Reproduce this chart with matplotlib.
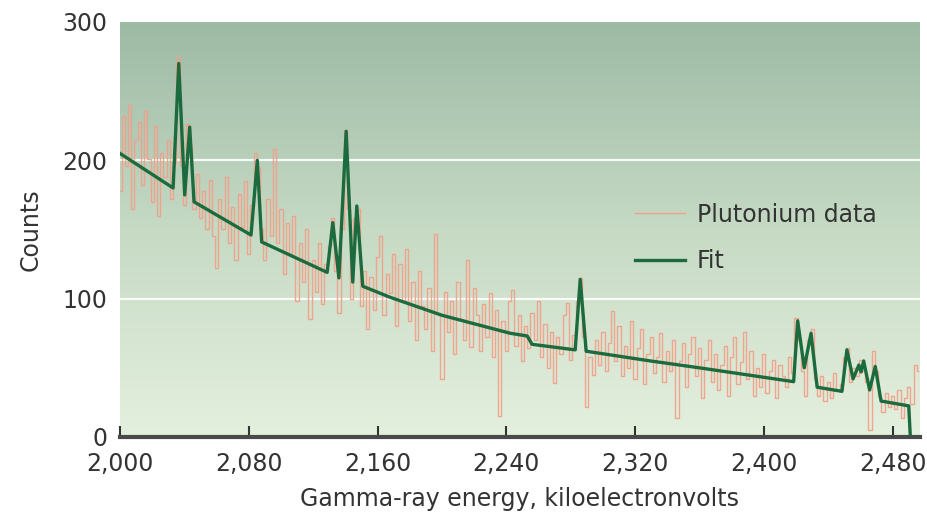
import numpy as np
import matplotlib.pyplot as plt
from matplotlib.colors import LinearSegmentedColormap
from matplotlib.ticker import FuncFormatter

plt.rcParams['font.family'] = ['DejaVu Sans']

# measured counts, 2 keV bins starting at 2,000 keV
energy_start = 2000
energy_step = 2
plutonium_counts = [
    178, 232, 196, 240, 165, 215, 228, 182, 236, 201,
    170, 225, 160, 205, 188, 215, 172, 198, 275, 196,
    168, 226, 210, 165, 190, 158, 178, 150, 186, 145,
    122, 172, 150, 188, 140, 166, 128, 176, 152, 185,
    132, 168, 205, 195, 150, 128, 172, 145, 208, 140,
    165, 118, 155, 132, 160, 98, 140, 112, 150, 85,
    128, 105, 140, 96, 125, 138, 158, 120, 90, 150,
    222, 165, 100, 158, 165, 95, 120, 78, 116, 92,
    130, 145, 88, 118, 104, 132, 80, 125, 98, 136,
    84, 112, 70, 120, 95, 78, 108, 62, 147, 90,
    42, 105, 76, 98, 60, 112, 85, 70, 128, 65,
    108, 88, 62, 96, 72, 104, 58, 92, 15, 84,
    62, 98, 106, 66, 88, 55, 80, 64, 90, 70,
    98, 58, 82, 50, 76, 39, 72, 60, 88, 97,
    56, 74, 98, 115, 72, 22, 58, 45, 70, 52,
    76, 48, 68, 91, 55, 80, 44, 66, 50, 84,
    42, 64, 78, 38, 60, 72, 46, 58, 75, 40,
    62, 48, 70, 14, 55, 68, 36, 60, 72, 44,
    64, 28, 56, 70, 40, 60, 34, 52, 66, 30,
    58, 72, 38, 54, 76, 42, 62, 30, 50, 36,
    60, 32, 48, 56, 28, 52, 44, 36, 58, 46,
    86, 70, 48, 30, 70, 78, 42, 30, 44, 26,
    40, 28, 46, 34, 38, 58, 64, 40, 50, 44,
    56, 48, 40, 5, 62, 48, 30, 18, 32, 22,
    30, 20, 34, 14, 28, 36, 24, 52, 48,
]

fit_energy = [
    2000, 2033, 2036.5, 2040.2, 2043.3, 2046, 2081.4, 2085.3, 2088,
    2128.7, 2132.2, 2136, 2140.5, 2144.6, 2147.1, 2150.8, 2167.8,
    2200, 2242.4, 2253, 2256, 2282.8, 2285.9, 2289.6, 2329.4, 2360,
    2418.5, 2421, 2425.1, 2429.3, 2433.1, 2448.5, 2451.6, 2455.4,
    2459, 2460.4, 2462, 2465.7, 2469.2, 2472.8, 2490, 2491,
]
fit_counts = [
    205, 180, 270, 175, 224, 170, 146, 200, 141,
    119, 155, 115, 221, 112, 167, 109, 101,
    88, 75, 73, 67, 63, 114, 62, 55, 50,
    40, 84, 50, 75, 36, 33, 63, 42,
    52, 47, 55, 34, 51, 26, 22.5, 0,
]

x_ticks = [2000, 2080, 2160, 2240, 2320, 2400, 2480]
y_ticks = [0, 100, 200, 300]

energy = energy_start + energy_step * np.arange(len(plutonium_counts))

fig = plt.figure(figsize=(9.27, 5.16), dpi=100)
ax = fig.add_axes([120 / 927, 1 - 437 / 516, 800 / 927, 415 / 516])

xmin, xmax = 2000, 2497
ymin, ymax = 0, 300

# background gradient
bg = LinearSegmentedColormap.from_list('bg', ['#e4f0de', '#c6dac4', '#9dbaa5'])
grad = np.linspace(0, 1, 256).reshape(-1, 1)
ax.imshow(grad, cmap=bg, origin='lower', aspect='auto',
          extent=[xmin, xmax, ymin, ymax], zorder=0)

for yv in [100, 200]:
    ax.axhline(yv, color='white', lw=1.6, alpha=0.9, zorder=1)

ax.plot(energy, plutonium_counts, color='#f39e88', lw=1.0, alpha=0.9,
        drawstyle='steps-mid', label='Plutonium data', zorder=2)
ax.plot(fit_energy, fit_counts, color='#1c6b3e', lw=2.4,
        label='Fit', zorder=3)

ax.set_xlim(xmin, xmax)
ax.set_ylim(ymin, ymax)

ax.set_xticks(x_ticks)
ax.xaxis.set_major_formatter(FuncFormatter(lambda v, p: f'{int(v):,}'))
ax.set_yticks(y_ticks)

ax.tick_params(axis='x', direction='in', length=8, width=1.5,
               color='#333333', labelsize=17, labelcolor='#333333', pad=11)
ax.tick_params(axis='y', length=0, labelsize=17, labelcolor='#333333', pad=9)

for side in ['top', 'right', 'left']:
    ax.spines[side].set_visible(False)
ax.spines['bottom'].set_color('#4a4a4a')
ax.spines['bottom'].set_linewidth(3)
ax.spines['bottom'].set_zorder(5)

ax.set_xlabel('Gamma-ray energy, kiloelectronvolts', fontsize=17,
              color='#333333', labelpad=8)
ax.set_ylabel('Counts', fontsize=17, color='#333333', labelpad=14)

leg = ax.legend(loc='upper left', bbox_to_anchor=(0.644, 0.565),
                frameon=False, fontsize=17, handlelength=2.1,
                handletextpad=0.5, labelspacing=0.95, borderpad=0,
                borderaxespad=0)
for t in leg.get_texts():
    t.set_color('#333333')

fig.savefig('out.png', dpi=100)
